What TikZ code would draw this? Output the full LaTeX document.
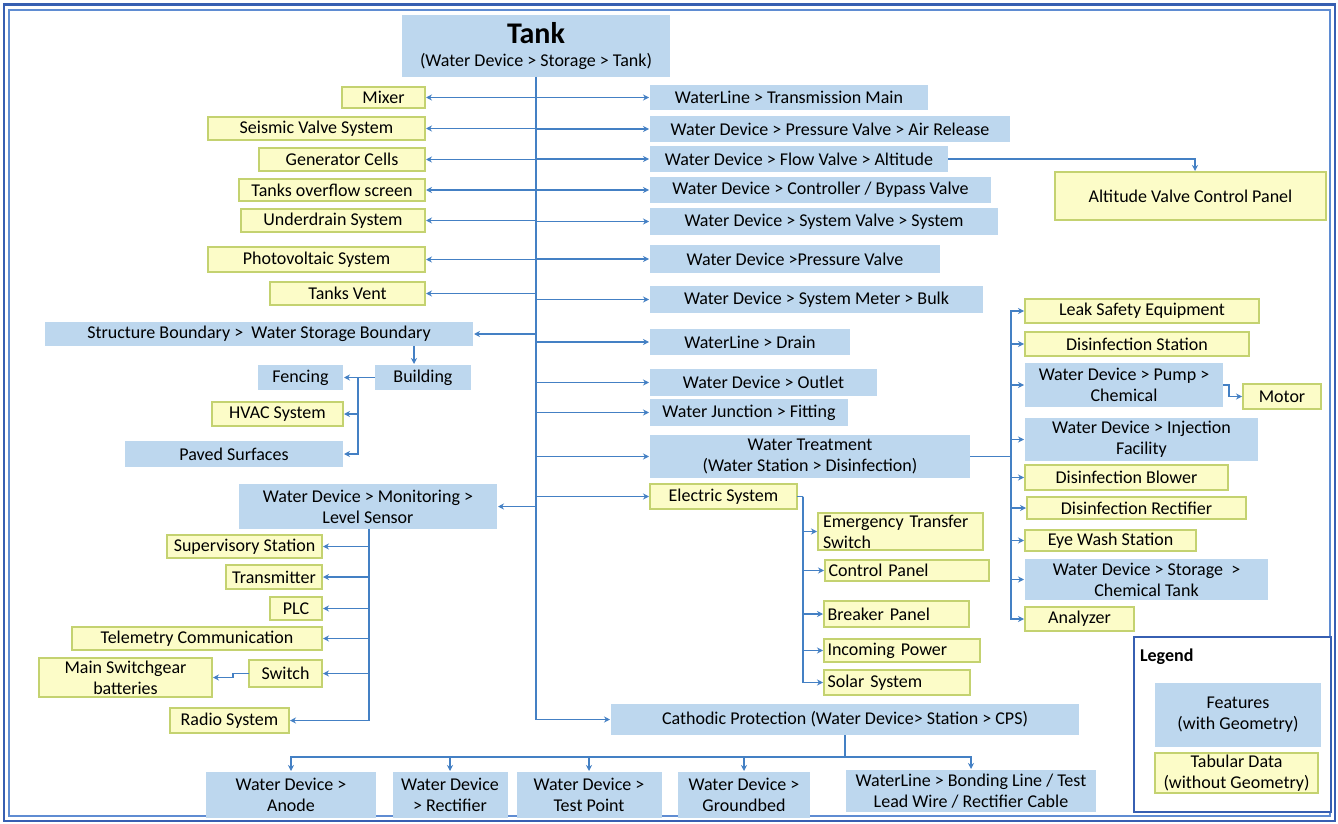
\documentclass[tikz,border=0pt]{standalone}
\usepackage{fontspec}
\setmainfont{Carlito}
\usetikzlibrary{arrows.meta}
\definecolor{lineblue}{RGB}{68,128,196}
\definecolor{featfill}{RGB}{189,215,238}
\definecolor{tabfill}{RGB}{252,252,200}
\definecolor{tabdraw}{RGB}{196,210,112}
\definecolor{frameout}{RGB}{55,95,178}
\definecolor{framein}{RGB}{95,140,210}
\tikzset{
  base/.style={inner sep=0pt, outer sep=0pt, font=\fontsize{18}{21}\selectfont, align=center, text=black},
  fbox/.style={base, fill=featfill},
  tbox/.style={base, fill=tabfill, draw=tabdraw, line width=1.2pt},
  conn/.style={draw=lineblue, line width=1.3pt},
  arr/.style={conn, -{Stealth[length=6pt,width=6pt]}, shorten >=1pt},
}
\begin{document}
\begin{tikzpicture}[x=1pt,y=-1pt]
\useasboundingbox (0,0) rectangle (1338,824);
\fill[white] (0,0) rectangle (1338,824);
% frame
\draw[frameout, line width=2.6pt] (4,4.5) rectangle (1335,821);
\draw[framein, line width=2.6pt] (9,10) rectangle (1330,816);

% Tank
\node[fbox, minimum width=268, minimum height=62] (tank) at (536,46)
  {{\fontsize{30}{32}\selectfont\bfseries Tank}\\[2pt](Water Device > Storage > Tank)};

% left yellow column
\node[tbox, minimum width=83, minimum height=21] (mixer) at (383.5,97.5) {Mixer};
\node[tbox, minimum width=217, minimum height=23] (seis) at (316.5,128.5) {Seismic Valve System};
\node[tbox, minimum width=166, minimum height=23] (gen) at (342,159.5) {Generator Cells};
\node[tbox, minimum width=186, minimum height=22] (over) at (332,190) {Tanks overflow screen};
\node[tbox, minimum width=184, minimum height=23] (under) at (333,220.5) {Underdrain System};
\node[tbox, minimum width=217, minimum height=25] (photo) at (316.5,259.5) {Photovoltaic System};
\node[tbox, minimum width=155, minimum height=23] (vent) at (347.5,293.5) {Tanks Vent};

% right blue column
\node[fbox, minimum width=278, minimum height=25] (tm) at (789,97.5) {WaterLine > Transmission Main};
\node[fbox, minimum width=360, minimum height=26] (air) at (830,129) {Water Device > Pressure Valve > Air Release};
\node[fbox, minimum width=298, minimum height=26] (flow) at (799,159) {Water Device > Flow Valve > Altitude};
\node[fbox, minimum width=341, minimum height=26] (byp) at (820.5,190) {Water Device > Controller / Bypass Valve};
\node[fbox, minimum width=348, minimum height=27] (sysv) at (824,221.5) {Water Device > System Valve > System};
\node[fbox, minimum width=290, minimum height=28] (pv) at (795,259) {Water Device >Pressure Valve};
\node[fbox, minimum width=333, minimum height=27] (bulk) at (816.5,299.5) {Water Device > System Meter > Bulk};
\node[fbox, minimum width=200, minimum height=26] (drain) at (750,342) {WaterLine > Drain};
\node[fbox, minimum width=227, minimum height=27] (outlet) at (763.5,382.5) {Water Device > Outlet};
\node[fbox, minimum width=198, minimum height=27] (fit) at (749,412.5) {Water Junction > Fitting};
\node[fbox, minimum width=320, minimum height=43] (wt) at (810,456.5) {Water Treatment\\(Water Station > Disinfection)};
\node[tbox, minimum width=147, minimum height=25] (el) at (723.5,496.5) {Electric System};
\node[fbox, minimum width=468, minimum height=31] (cp) at (845,719.5) {Cathodic Protection (Water Device> Station > CPS)};

\node[tbox, minimum width=271, minimum height=48] (alt) at (1190.5,196) {Altitude Valve Control Panel};

% structure boundary branch
\node[fbox, minimum width=428, minimum height=24] (sb) at (259,334) {Structure Boundary >\ \ Water Storage Boundary};
\node[fbox, minimum width=96, minimum height=25] (bld) at (423,377.5) {Building};
\node[fbox, minimum width=85, minimum height=25] (fen) at (300.5,377.5) {Fencing};
\node[tbox, minimum width=131, minimum height=24] (hvac) at (277.5,414) {HVAC System};
\node[fbox, minimum width=218, minimum height=26] (paved) at (234,454) {Paved Surfaces};

% level sensor branch
\node[fbox, minimum width=258, minimum height=45] (ls) at (368,506.5) {Water Device > Monitoring >\\Level Sensor};
\node[tbox, minimum width=155, minimum height=23] (sup) at (244.5,546.5) {Supervisory Station};
\node[tbox, minimum width=96, minimum height=24] (trans) at (274,577) {Transmitter};
\node[tbox, minimum width=52, minimum height=23] (plc) at (296,608.5) {PLC};
\node[tbox, minimum width=250, minimum height=23] (tel) at (197,638.5) {Telemetry Communication};
\node[tbox, minimum width=73, minimum height=27] (sw) at (285.5,673.5) {Switch};
\node[tbox, minimum width=173, minimum height=39] (msb) at (125.5,677.5) {Main Switchgear\\batteries};
\node[tbox, minimum width=119, minimum height=25] (radio) at (229.5,720.5) {Radio System};

% electric branch
\node[tbox, minimum width=165, minimum height=37, align=left, text width=155] (ets) at (900.5,531.5) {Emergency Transfer\\Switch};
\node[tbox, minimum width=164, minimum height=21, align=left, text width=157] (ctrl) at (907,570.5) {Control Panel};
\node[tbox, minimum width=145, minimum height=26, align=left, text width=138] (brk) at (896.5,614) {Breaker Panel};
\node[tbox, minimum width=156, minimum height=23, align=left, text width=149] (inc) at (902,650.5) {Incoming Power};
\node[tbox, minimum width=146, minimum height=25, align=left, text width=139] (sol) at (897,682.5) {Solar System};

% treatment branch
\node[tbox, minimum width=234, minimum height=24] (leak) at (1142,311) {Leak Safety Equipment};
\node[tbox, minimum width=224, minimum height=24] (dst) at (1137,344) {Disinfection Station};
\node[fbox, minimum width=198, minimum height=44] (pump) at (1124,385) {Water Device > Pump >\\Chemical};
\node[tbox, minimum width=78, minimum height=25] (motor) at (1282,396.5) {Motor};
\node[fbox, minimum width=233, minimum height=43] (inj) at (1141.5,439.5) {Water Device > Injection\\Facility};
\node[tbox, minimum width=203, minimum height=25] (blow) at (1126.5,477.5) {Disinfection Blower};
\node[tbox, minimum width=219, minimum height=22] (drec) at (1136.5,508) {Disinfection Rectifier};
\node[tbox, minimum width=171, minimum height=21] (eye) at (1110.5,540.5) {Eye Wash Station};
\node[fbox, minimum width=243, minimum height=41] (ctank) at (1146.5,579.5) {Water Device > Storage\ \ >\\Chemical Tank};
\node[tbox, minimum width=109, minimum height=24] (ana) at (1079.5,619) {Analyzer};

% cathodic branch
\node[fbox, minimum width=170, minimum height=46] (anode) at (291,795) {Water Device >\\Anode};
\node[fbox, minimum width=115, minimum height=46] (rect) at (450,795) {Water Device\\> Rectifier};
\node[fbox, minimum width=145, minimum height=46] (tp) at (589,795) {Water Device >\\Test Point};
\node[fbox, minimum width=132, minimum height=46] (gb) at (744,795) {Water Device >\\Groundbed};
\node[fbox, minimum width=250, minimum height=42] (bond) at (971,791) {WaterLine > Bonding Line / Test\\Lead Wire / Rectifier Cable};

% legend
\node[draw=frameout, line width=1.3pt, fill=white, minimum width=197, minimum height=175, inner sep=0pt] (leg) at (1232.5,724.5) {};
\node[base, anchor=west, font=\fontsize{18}{21}\selectfont\bfseries] (legt) at (1140,657) {Legend};
\node[fbox, minimum width=166, minimum height=64] (lf) at (1238,715) {Features\\(with Geometry)};
\node[tbox, minimum width=163, minimum height=40] (lt) at (1236.5,773) {Tabular Data\\(without Geometry)};

% ---------- connectors ----------
\draw[arr] (tank.south) |- (cp.west);
\foreach \n in {mixer,seis,gen,over,under,photo,vent,sb,ls}
  \draw[arr] (tank.south |- \n.east) -- (\n.east);
\foreach \n in {tm,air,flow,byp,sysv,pv,bulk,drain,outlet,fit,wt,el}
  \draw[arr] (tank.south |- \n.west) -- (\n.west);

\draw[arr] (flow.east) -| ([xshift=4.5pt]alt.north);

\coordinate (bx) at (414,0);
\draw[arr] (sb.south -| bx) -- (bld.north -| bx);
\coordinate (bj) at (358,377.5);
\draw[conn] (bld.west) -- (bj);
\draw[arr] (bj) -- (fen.east);
\draw[arr] (bj) |- (hvac.east);
\draw[arr] (bj) |- (paved.east);

\foreach \n in {sup,trans,plc,tel,sw,radio}
  \draw[arr] ([xshift=1pt]ls.south) |- (\n.east);
\draw[arr] (sw.west) -- ++(-16,0) |- (msb.east);

\coordinate (ej) at (803,496.5);
\draw[conn] (el.east) -- (ej);
\foreach \n in {ets,ctrl,brk,inc,sol}
  \draw[arr] (ej) |- (\n.west);

\coordinate (wj) at (1011,456.5);
\draw[conn] (wt.east) -- (wj);
\foreach \n in {leak,dst,pump,inj,blow,drec,eye,ctank,ana}
  \draw[arr] (wj) |- (\n.west);
\draw[arr] (pump.east) -- ++(6,0) |- (motor.west);

\coordinate (cj) at (845,757);
\draw[conn] (cp.south) -- (cj);
\foreach \n in {anode,rect,tp,gb,bond}
  \draw[arr] (cj) -| (\n.north);
\end{tikzpicture}
\end{document}
